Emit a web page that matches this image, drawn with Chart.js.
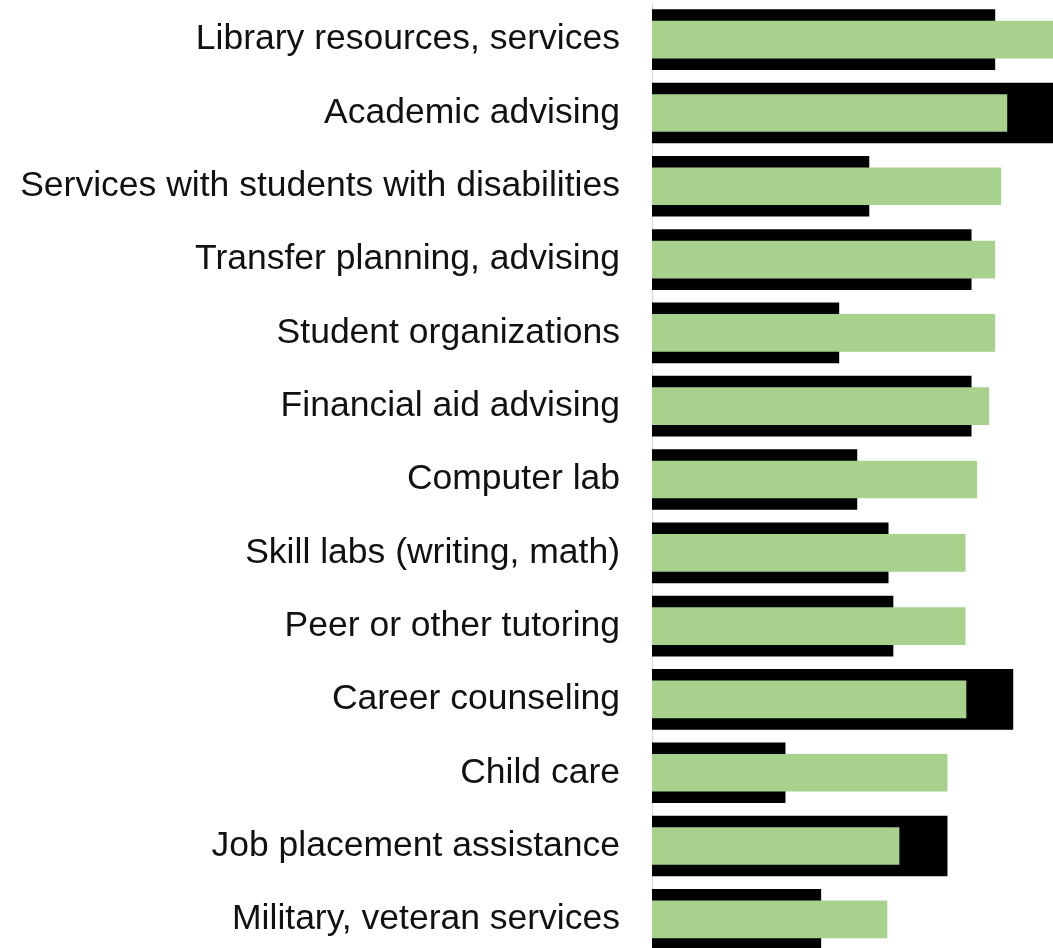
<!DOCTYPE html>
<html lang="en">
<head>
    <meta charset="utf-8">
    <title>Student services</title>
    <script src="https://cdn.jsdelivr.net/npm/chart.js"></script>
    <style>
        html, body { margin: 0; padding: 0; background: #fff; overflow: hidden; }
        #wrap { width: 1053px; height: 948px; overflow: hidden; }
    </style>
</head>
<body>
    <div id="wrap">
        <canvas id="servicesChart" width="1053" height="960"></canvas>
    </div>
    <script>
        // categories, top to bottom
        var services = [
            'Library resources, services',
            'Academic advising',
            'Services with students with disabilities',
            'Transfer planning, advising',
            'Student organizations',
            'Financial aid advising',
            'Computer lab',
            'Skill labs (writing, math)',
            'Peer or other tutoring',
            'Career counseling',
            'Child care',
            'Job placement assistance',
            'Military, veteran services'
        ];
        // wide black bars (behind)
        var blackValues = [85.5, 102, 54.1, 79.6, 46.6, 79.6, 51.1, 58.9, 60.1, 90.0, 33.2, 73.6, 42.1];
        // narrow green bars (front)
        var greenValues = [102, 88.5, 87.0, 85.5, 85.5, 84.0, 81.0, 78.1, 78.1, 78.3, 73.6, 61.6, 58.6];
        var axisMin = 0;
        var axisMax = 100;

        var ctx = document.getElementById('servicesChart').getContext('2d');
        var myChart = new Chart(ctx, {
            type: 'bar',
            data: {
                labels: services,
                datasets: [{
                    label: 'black',
                    data: blackValues,
                    backgroundColor: '#000000',
                    barThickness: 60,
                    grouped: false,
                    order: 2
                }, {
                    label: 'green',
                    data: greenValues,
                    backgroundColor: '#a9d18e',
                    barThickness: 37,
                    grouped: false,
                    order: 1
                }]
            },
            options: {
                indexAxis: 'y',
                responsive: false,
                animation: false,
                layout: {
                    padding: { top: 3, bottom: 4, left: 0, right: 0 }
                },
                plugins: {
                    legend: { display: false },
                    tooltip: { enabled: false }
                },
                scales: {
                    x: {
                        display: false,
                        min: axisMin,
                        max: axisMax
                    },
                    y: {
                        afterFit: function (scale) {
                            // fixed label column, no extra room for first/last label
                            scale.width = 652;
                            scale.paddingTop = 0;
                            scale.paddingBottom = 0;
                        },
                        grid: {
                            display: false,
                            drawTicks: false
                        },
                        border: {
                            display: true,
                            color: '#d9d9d9',
                            width: 1
                        },
                        ticks: {
                            padding: 32,
                            color: '#111111',
                            font: { family: 'Liberation Sans, Arial, sans-serif', size: 35.5 }
                        }
                    }
                }
            }
        });
    </script>
</body>
</html>
